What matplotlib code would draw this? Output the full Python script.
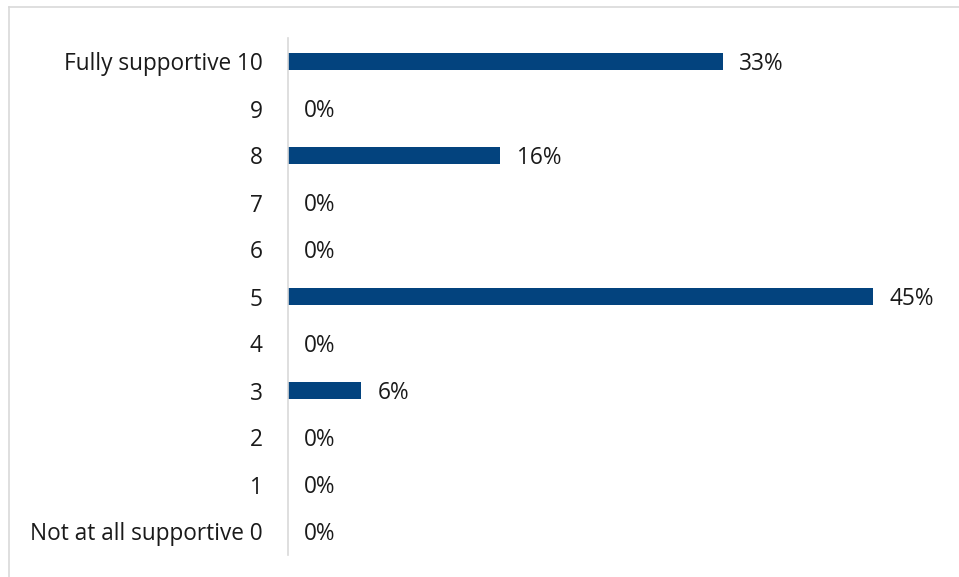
import matplotlib
matplotlib.use("Agg")
import matplotlib.pyplot as plt
from matplotlib.lines import Line2D

categories = ["Fully supportive 10", "9", "8", "7", "6", "5", "4", "3", "2", "1",
              "Not at all supportive 0"]
values = [33.3, 0, 16.3, 0, 0, 44.8, 0, 5.6, 0, 0, 0]
labels = ["33%", "0%", "16%", "0%", "0%", "45%", "0%", "6%", "0%", "0%", "0%"]

plt.rcParams['font.family'] = ['Open Sans', 'DejaVu Sans']

W, H = 959, 577
fig = plt.figure(figsize=(W / 100, H / 100), dpi=100)
ax_left, ax_right, ax_top, ax_bottom = 287.5, 930, 38, 555
ax = fig.add_axes([ax_left / W, 1 - ax_bottom / H, (ax_right - ax_left) / W,
                   (ax_bottom - ax_top) / H])

px_per_pct = 13.065
xmax = (ax_right - ax_left) / px_per_pct
n = len(categories)
ypos = list(range(n - 1, -1, -1))
color = "#03437E"
ax.barh(ypos, values, height=0.36, color=color)
ax.set_xlim(0, xmax)
ax.set_ylim(-0.5, n - 0.5)
ax.set_yticks(ypos)
ax.set_yticklabels(categories, fontsize=16.3, color="#1a1a1a")
ax.tick_params(axis="y", length=0, pad=18)
ax.set_xticks([])
for s in ["top", "right", "bottom"]:
    ax.spines[s].set_visible(False)
ax.spines["left"].set_color("#D9D9D9")
ax.spines["left"].set_linewidth(1.2)

for y, v, lab in zip(ypos, values, labels):
    ax.annotate(lab, xy=(v, y), xytext=(12, -2), textcoords="offset points",
                va="center", ha="left", fontsize=16.3, color="#1a1a1a")

# figure border (top and left visible)
fig.add_artist(Line2D([9 / W, 9 / W], [0, 1 - 7 / H], transform=fig.transFigure,
                      color="#D9D9D9", lw=1.2))
fig.add_artist(Line2D([9 / W, 1], [1 - 7 / H, 1 - 7 / H], transform=fig.transFigure,
                      color="#D9D9D9", lw=1.2))

fig.savefig("out.png", dpi=100)
